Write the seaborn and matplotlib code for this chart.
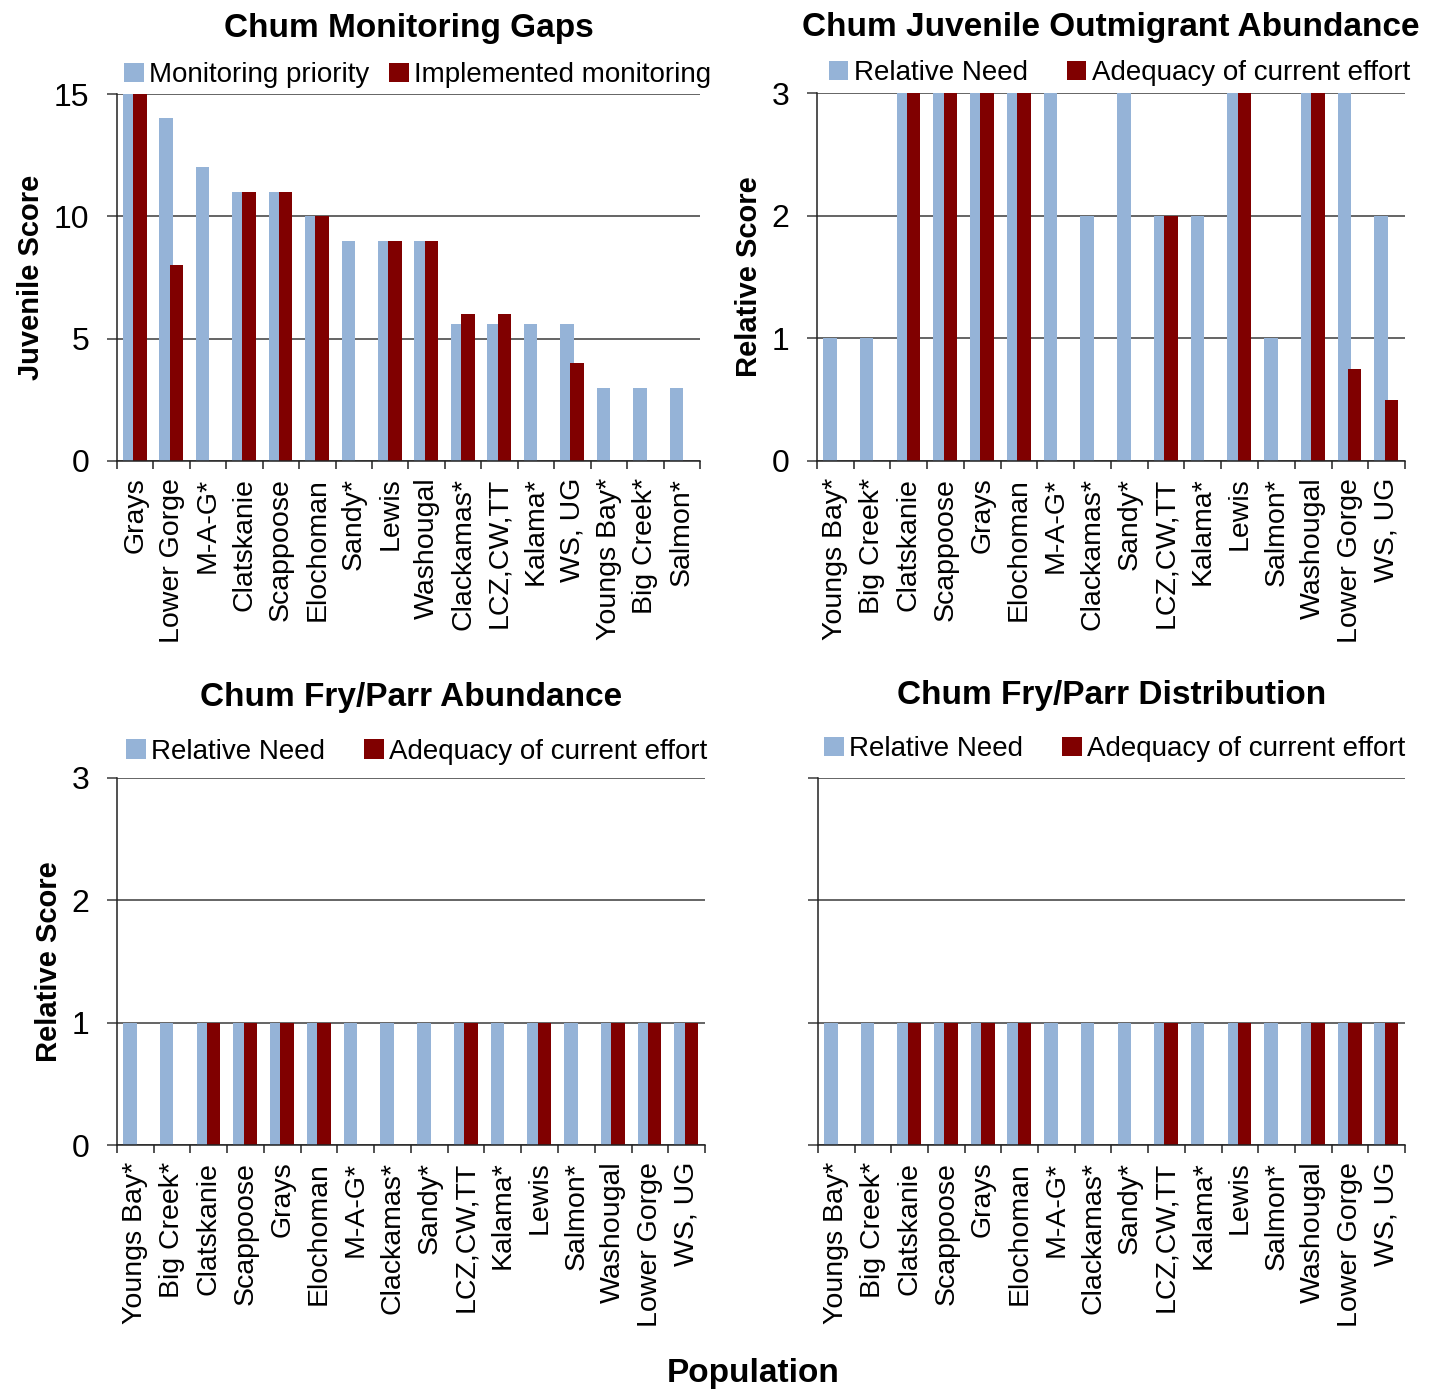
import matplotlib
matplotlib.use("Agg")
import matplotlib.pyplot as plt
import numpy as np
import pandas as pd
import seaborn as sns

# ---- data ----
gaps_pops = ["Grays", "Lower Gorge", "M-A-G*", "Clatskanie", "Scappoose", "Elochoman",
             "Sandy*", "Lewis", "Washougal", "Clackamas*", "LCZ,CW,TT", "Kalama*",
             "WS, UG", "Youngs Bay*", "Big Creek*", "Salmon*"]
gaps_priority = [15, 14, 12, 11, 11, 10, 9, 9, 9, 5.6, 5.6, 5.6, 5.6, 3, 3, 3]
gaps_implemented = [15, 8, 0, 11, 11, 10, 0, 9, 9, 6, 6, 0, 4, 0, 0, 0]

pops = ["Youngs Bay*", "Big Creek*", "Clatskanie", "Scappoose", "Grays", "Elochoman",
        "M-A-G*", "Clackamas*", "Sandy*", "LCZ,CW,TT", "Kalama*", "Lewis",
        "Salmon*", "Washougal", "Lower Gorge", "WS, UG"]
outmig_need = [1, 1, 3, 3, 3, 3, 3, 2, 3, 2, 2, 3, 1, 3, 3, 2]
outmig_effort = [0, 0, 3, 3, 3, 3, 0, 0, 0, 2, 0, 3, 0, 3, 0.75, 0.5]
fry_abund_need = [1, 1, 1, 1, 1, 1, 1, 1, 1, 1, 1, 1, 1, 1, 1, 1]
fry_abund_effort = [0, 0, 1, 1, 1, 1, 0, 0, 0, 1, 0, 1, 0, 1, 1, 1]
fry_dist_need = [1, 1, 1, 1, 1, 1, 1, 1, 1, 1, 1, 1, 1, 1, 1, 1]
fry_dist_effort = [0, 0, 1, 1, 1, 1, 0, 0, 0, 1, 0, 1, 0, 1, 1, 1]

BLUE = "#95B3D7"
RED = "#800000"
GRID = "#3a3a3a"

sns.set_style("white")
plt.rcParams["font.family"] = ["Liberation Sans", "DejaVu Sans"]
plt.rcParams["text.color"] = "black"
plt.rcParams["axes.labelcolor"] = "black"
plt.rcParams["xtick.color"] = "black"
plt.rcParams["ytick.color"] = "black"

fig = plt.figure(figsize=(14.35, 13.91), dpi=100)


def panel(rect, cats, s1, s2, names, title, ylim, yticks, ylabel, title_pad,
          leg_xy, col_space, show_ylabels=True):
    ax = fig.add_axes(rect)
    df = pd.DataFrame({
        "Population": cats + cats,
        "Score": list(s1) + list(s2),
        "Series": [names[0]] * len(cats) + [names[1]] * len(cats),
    })
    sns.barplot(data=df, x="Population", y="Score", hue="Series", order=cats,
                hue_order=names, palette=[BLUE, RED], width=0.56, dodge=True,
                saturation=1, linewidth=0, errorbar=None, ax=ax)

    # slightly overlapping bars, like the original spreadsheet chart
    bw = 0.37
    for cont, off in zip(ax.containers, [-0.15, 0.13]):
        for bar in cont:
            i = round(bar.get_x() + bar.get_width() / 2)
            bar.set_x(i + off - bw / 2)
            bar.set_width(bw)

    ax.set_xlim(-0.5, len(cats) - 0.5)
    ax.set_ylim(*ylim)
    ax.set_yticks(yticks)
    ax.yaxis.grid(True, color=GRID, linewidth=1.1)
    ax.set_axisbelow(True)
    for side in ["top", "right"]:
        ax.spines[side].set_visible(False)
    for side in ["left", "bottom"]:
        ax.spines[side].set_color("#222222")
        ax.spines[side].set_linewidth(1.1)

    ax.set_xticks(np.arange(len(cats)))
    ax.set_xticklabels(cats, rotation=90, fontsize=20.5)
    ax.set_xticks(np.arange(-0.5, len(cats)), minor=True)
    ax.tick_params(axis="x", which="major", length=0, pad=12)
    ax.tick_params(axis="x", which="minor", length=6, width=1.1, color="#222222",
                   direction="out", bottom=True)
    ax.tick_params(axis="y", length=7, width=1.1, color=GRID, direction="out",
                   left=True, labelsize=23, pad=13, labelleft=show_ylabels)

    ax.set_xlabel("")
    if ylabel:
        ax.set_ylabel(ylabel, fontsize=21, fontweight="bold", labelpad=6)
    else:
        ax.set_ylabel("")

    ax.set_title(title, fontsize=24, fontweight="bold", pad=title_pad)

    handles, labels = ax.get_legend_handles_labels()
    ax.legend(handles, labels, loc="center", bbox_to_anchor=leg_xy, ncol=2,
              frameon=False, fontsize=20, handlelength=0.7, handleheight=0.7,
              handletextpad=0.2, columnspacing=col_space, borderaxespad=0)
    return ax


panel([0.0815, 0.6686, 0.4063, 0.2638], gaps_pops, gaps_priority, gaps_implemented,
      ["Monitoring priority", "Implemented monitoring"], "Chum Monitoring Gaps",
      (0, 15), [0, 5, 10, 15], "Juvenile Score", 41, (0.516, 1.052), 0.7)

panel([0.5693, 0.6686, 0.4098, 0.2645], pops, outmig_need, outmig_effort,
      ["Relative Need", "Adequacy of current effort"],
      "Chum Juvenile Outmigrant Abundance",
      (0, 3), [0, 1, 2, 3], "Relative Score", 41, (0.514, 1.054), 1.4)

panel([0.0815, 0.1768, 0.4098, 0.2639], pops, fry_abund_need, fry_abund_effort,
      ["Relative Need", "Adequacy of current effort"], "Chum Fry/Parr Abundance",
      (0, 3), [0, 1, 2, 3], "Relative Score", 52, (0.51, 1.071), 1.4)

panel([0.5700, 0.1768, 0.4091, 0.2639], pops, fry_dist_need, fry_dist_effort,
      ["Relative Need", "Adequacy of current effort"], "Chum Fry/Parr Distribution",
      (0, 3), [0, 1, 2, 3], None, 53, (0.506, 1.079), 1.4, show_ylabels=False)

fig.text(0.5247, 0.0129, "Population", fontsize=24, fontweight="bold",
         ha="center", va="center")

fig.savefig("out.png", dpi=100)
plt.close(fig)
